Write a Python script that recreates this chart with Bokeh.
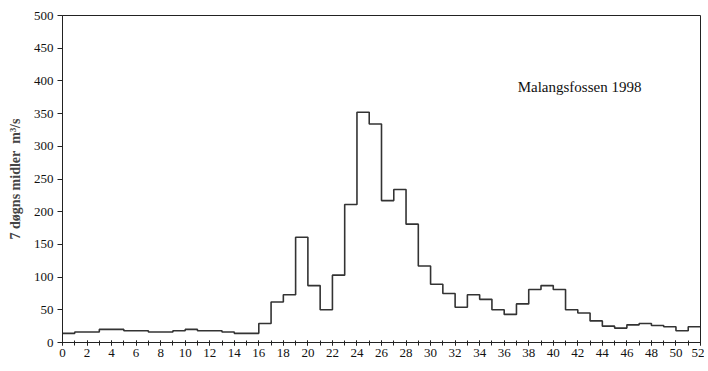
from bokeh.plotting import figure
from bokeh.models import Range1d, SingleIntervalTicker, Label
from bokeh.embed import file_html
from bokeh.resources import INLINE

weeks = list(range(0, 52))
flow = [14, 16, 16, 20, 20, 18, 18, 16, 16, 18,
        20, 18, 18, 16, 14, 14, 29, 62, 73, 161,
        87, 50, 103, 211, 352, 334, 217, 234, 181, 117,
        89, 75, 54, 73, 66, 50, 43, 59, 81, 87,
        81, 50, 45, 33, 25, 22, 27, 29, 26, 24,
        18, 24]
x_ticks = list(range(0, 53, 2))
y_ticks = list(range(0, 501, 50))
title_text = "Malangsfossen 1998"
y_label = "7 døgns midler\u00a0\u00a0m³/s"

xs = weeks + [52]
ys = flow + [flow[-1]]

p = figure(width=704, height=363, output_backend="svg", toolbar_location=None,
           x_range=Range1d(0, 52), y_range=Range1d(0, 500),
           min_border_left=62, min_border_right=4, min_border_top=15, min_border_bottom=21)
p.xgrid.visible = False
p.ygrid.visible = False
p.outline_line_color = "#222222"
p.outline_line_width = 1

p.step(xs, ys, mode="after", line_color="#333333", line_width=1.6)

font = "Liberation Serif"
p.xaxis.ticker = SingleIntervalTicker(interval=2, num_minor_ticks=2)
p.yaxis.ticker = SingleIntervalTicker(interval=50, num_minor_ticks=0)
for ax in (p.xaxis[0], p.yaxis[0]):
    ax.axis_line_color = "#222222"
    ax.major_tick_line_color = "#222222"
    ax.minor_tick_line_color = "#222222"
    ax.major_label_text_font = font
    ax.major_label_text_font_size = "13px"
    ax.major_label_text_color = "#111111"
p.xaxis.major_tick_in = 2
p.xaxis.major_tick_out = 3
p.xaxis.minor_tick_in = 2
p.xaxis.minor_tick_out = 3
p.xaxis.major_label_standoff = 3
p.yaxis.major_tick_in = 0
p.yaxis.major_tick_out = 5
p.yaxis.minor_tick_in = 0
p.yaxis.minor_tick_out = 0
p.yaxis.major_label_standoff = 4
p.yaxis.axis_label = y_label
p.yaxis.axis_label_text_font = font
p.yaxis.axis_label_text_font_style = "bold"
p.yaxis.axis_label_text_font_size = "14px"
p.yaxis.axis_label_standoff = 8

p.add_layout(Label(x=37.1, y=390, text=title_text, text_font=font,
                   text_font_size="15px", text_baseline="middle", text_color="#111111"))

open("out.html", "w").write(file_html(p, INLINE))
